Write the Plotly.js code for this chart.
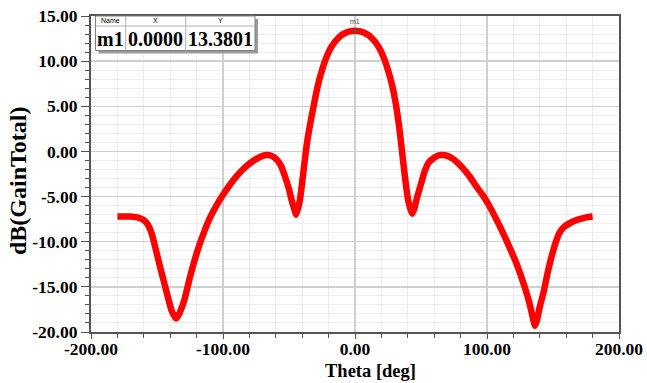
<!DOCTYPE html>
<html>
<head>
<meta charset="utf-8">
<script src="https://cdn.plot.ly/plotly-3.0.1.min.js"></script>
<style>html,body{margin:0;padding:0;background:#fff;}#chart{width:647px;height:383px;}</style>
</head>
<body>
<div id="chart"></div>
<script>
// Theta [deg]
const theta = [-180, -175, -170, -165, -160, -157, -154, -151, -148, -145, -142, -139, -137, -135.5, -134, -132, -129, -126, -122, -118, -114, -110, -105, -100, -95, -90, -85, -80, -75, -70, -67, -64, -60, -56, -53, -50, -48, -46, -44.5, -42, -40, -38, -36, -34, -31, -28, -25, -22, -19, -16, -13, -10, -7, -4, 0, 4, 7, 10, 13, 16, 19, 22, 25, 28, 31, 34, 36, 38, 40, 42, 43.4, 45, 47, 50, 53, 56, 60, 63, 66, 70, 74, 78, 82, 87, 92, 97, 102, 107, 112, 117, 122, 126, 130, 133, 135, 136.4, 138, 140, 143, 146, 149, 152, 155, 158, 162, 166, 170, 175, 180];
// dB(GainTotal)
const gain = [-7.2, -7.2, -7.2, -7.3, -7.6, -8.1, -9.1, -10.8, -12.6, -14.3, -16.0, -17.6, -18.2, -18.5, -18.2, -17.6, -16.3, -14.5, -12.3, -10.4, -8.8, -7.4, -6.0, -4.8, -3.75, -2.8, -2.0, -1.35, -0.85, -0.5, -0.4, -0.45, -0.8, -1.6, -2.8, -4.2, -5.4, -6.4, -7.0, -5.6, -3.4, -0.9, 1.3, 3.0, 5.3, 7.4, 9.0, 10.3, 11.3, 12.0, 12.5, 12.9, 13.15, 13.3, 13.38, 13.3, 13.15, 12.9, 12.5, 12.0, 11.3, 10.3, 9.0, 7.4, 5.2, 2.1, -0.5, -3.0, -5.2, -6.4, -6.9, -6.3, -5.1, -3.6, -2.1, -1.2, -0.7, -0.45, -0.4, -0.5, -0.8, -1.3, -1.9, -2.8, -3.9, -4.9, -6.1, -7.5, -9.0, -10.6, -12.3, -13.9, -15.7, -17.3, -18.6, -19.3, -18.6, -17.2, -15.5, -13.4, -11.6, -10.1, -9.0, -8.4, -8.0, -7.7, -7.5, -7.3, -7.2];

// marker table
const markerName = ["m1"];
const markerX = [0.0];
const markerY = [13.3801];
const tableHeaders = ["Name", "X", "Y"];

const xTickVals = [-200, -100, 0, 100, 200];
const xTickText = ["-200.00", "-100.00", "0.00", "100.00", "200.00"];
const yTickVals = [-20, -15, -10, -5, 0, 5, 10, 15];
const yTickText = ["-20.00", "-15.00", "-10.00", "-5.00", "0.00", "5.00", "10.00", "15.00"];
const xTitle = "Theta [deg]";
const yTitle = "dB(GainTotal)";

const SERIF = "Liberation Serif, Times New Roman, serif";
const tickFont = {family: SERIF, size: 17.5, color: "#000", weight: "bold"};

const traces = [
  {x: theta, y: gain, type: "scatter", mode: "lines",
   line: {color: "#ff0000", width: 6.5, shape: "spline", smoothing: 0.6},
   hoverinfo: "skip", showlegend: false},
  {x: markerX, y: markerY, type: "scatter", mode: "markers",
   marker: {symbol: "triangle-down", size: 5, color: "#555"},
   showlegend: false, hoverinfo: "skip"}
];

// table geometry in paper coords (plot area 528x316 px)
const px = v => (v - 91) / 528;
const py = v => (332 - v) / 316;
const tL = px(95.5), tR = px(255), c1 = px(125.7), c2 = px(185.7);
const tT = py(16), tH = py(26), tB = py(50.5);
const sh = 3;

const shapes = [
  {type: "rect", xref: "paper", yref: "paper", x0: px(95.5 + sh), x1: px(255 + sh), y0: py(50.5 + sh), y1: py(16 + sh), fillcolor: "#9a9a9a", line: {width: 0}, layer: "above"},
  {type: "rect", xref: "paper", yref: "paper", x0: tL, x1: tR, y0: tB, y1: tT, fillcolor: "#ffffff", line: {color: "#7f7f7f", width: 1}, layer: "above"},
  {type: "line", xref: "paper", yref: "paper", x0: tL, x1: tR, y0: tH, y1: tH, line: {color: "#b0b0b0", width: 1}, layer: "above"},
  {type: "line", xref: "paper", yref: "paper", x0: c1, x1: c1, y0: tB, y1: tT, line: {color: "#b0b0b0", width: 1}, layer: "above"},
  {type: "line", xref: "paper", yref: "paper", x0: c2, x1: c2, y0: tB, y1: tT, line: {color: "#b0b0b0", width: 1}, layer: "above"}
];

const colCenters = [(tL + c1) / 2, (c1 + c2) / 2, (c2 + tR) / 2];
const rowVals = [markerName[0], markerX[0].toFixed(4), markerY[0].toFixed(4)];
const annotations = [];
tableHeaders.forEach((h, i) => annotations.push({
  xref: "paper", yref: "paper", x: colCenters[i], y: py(21), text: h, showarrow: false,
  font: {family: "Liberation Sans, Arial, sans-serif", size: 7, color: "#000"}, xanchor: "center", yanchor: "middle"
}));
rowVals.forEach((v, i) => annotations.push({
  xref: "paper", yref: "paper", x: colCenters[i], y: py(38.5), text: v, showarrow: false,
  font: {family: SERIF, size: 20, color: "#000", weight: "bold"}, xanchor: "center", yanchor: "middle"
}));
annotations.push({x: markerX[0], y: markerY[0], xref: "x", yref: "y", text: markerName[0], showarrow: false,
  yshift: 9, font: {family: "Liberation Sans, Arial, sans-serif", size: 7, color: "#444"}});
// axis titles
annotations.push({xref: "paper", yref: "paper", x: px(370), y: py(383), text: xTitle, showarrow: false,
  xanchor: "center", yanchor: "bottom", font: {family: SERIF, size: 18.5, color: "#000", weight: "bold"}});
annotations.push({xref: "paper", yref: "paper", x: px(18), y: py(181), text: yTitle, showarrow: false, textangle: -90,
  xanchor: "center", yanchor: "middle", font: {family: SERIF, size: 24, color: "#000", weight: "bold"}});

const layout = {
  width: 647, height: 383,
  margin: {l: 91, r: 28, t: 16, b: 51, pad: 0},
  paper_bgcolor: "#ffffff", plot_bgcolor: "#ffffff",
  showlegend: false,
  xaxis: {
    range: [-200, 200], tickmode: "array", tickvals: xTickVals, ticktext: xTickText,
    tickfont: tickFont, ticks: "outside", ticklen: 5, tickcolor: "#555", tickwidth: 1,
    ticklabelstandoff: -5,
    showline: true, linecolor: "#555", linewidth: 2, mirror: true,
    showgrid: true, gridcolor: "#cfcfcf", gridwidth: 1.5, zeroline: false,
    minor: {dtick: 20, ticks: "outside", ticklen: 4, tickcolor: "#555", showgrid: true, gridcolor: "#ededed", gridwidth: 1},
    automargin: false
  },
  yaxis: {
    range: [-20, 15], tickmode: "array", tickvals: yTickVals, ticktext: yTickText,
    tickfont: tickFont, ticks: "outside", ticklen: 8, tickcolor: "#555", tickwidth: 1,
    showline: true, linecolor: "#555", linewidth: 2, mirror: true,
    showgrid: true, gridcolor: "#cfcfcf", gridwidth: 1.5, zeroline: false,
    minor: {dtick: 1, ticks: "outside", ticklen: 4, tickcolor: "#555", showgrid: true, gridcolor: "#ededed", gridwidth: 1},
    automargin: false
  },
  shapes: shapes,
  annotations: annotations
};

Plotly.newPlot("chart", traces, layout, {staticPlot: true, displayModeBar: false});
</script>
</body>
</html>
